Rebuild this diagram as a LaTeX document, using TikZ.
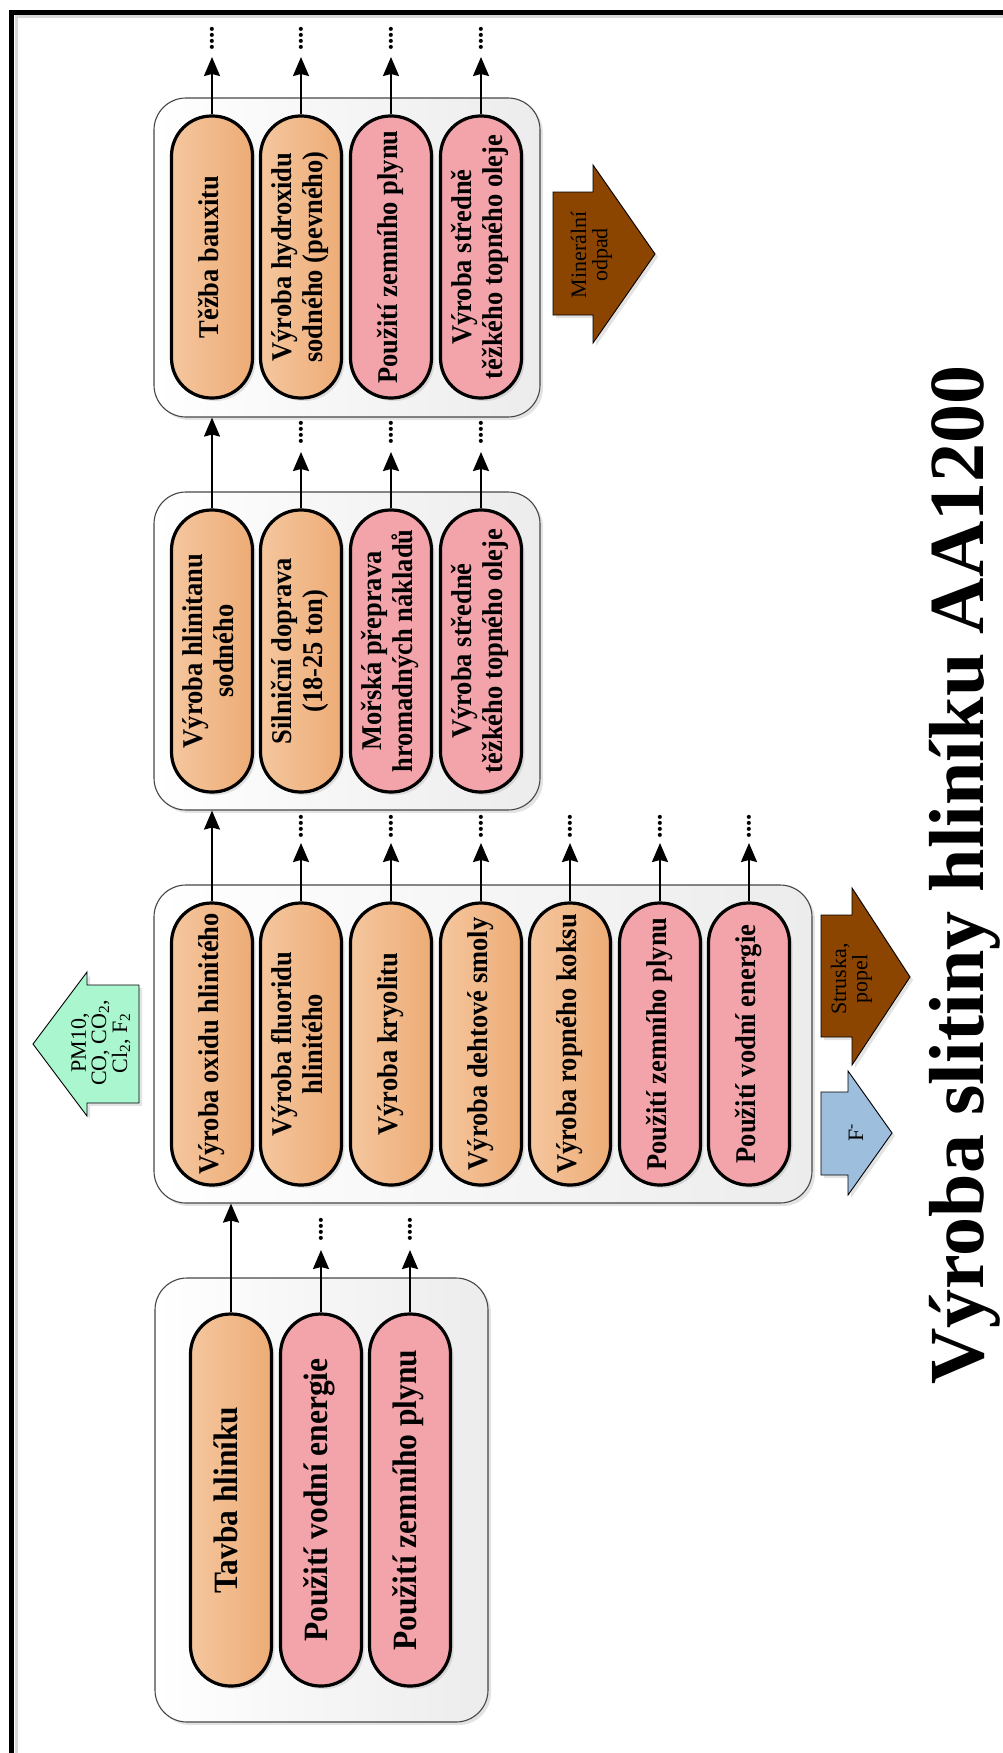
\documentclass[tikz,border=0pt]{standalone}
\usepackage{fontspec}
\setmainfont{Liberation Serif}
\usetikzlibrary{arrows.meta,shadows}
\definecolor{orL}{RGB}{245,198,158}
\definecolor{orR}{RGB}{237,172,118}
\definecolor{pinkF}{RGB}{243,164,171}
\definecolor{boxR}{RGB}{236,236,236}
\definecolor{boxD}{RGB}{70,70,70}
\definecolor{brownF}{RGB}{139,69,0}
\definecolor{blueF}{RGB}{157,190,221}
\definecolor{greenF}{RGB}{170,246,206}
\newcommand{\rottxt}[1]{\rotatebox{90}{\scalebox{1}[1.08]{\begin{tabular}{@{}c@{}}#1\end{tabular}}}}
\newcommand{\rotsmall}[1]{\rotatebox{90}{\begin{tabular}{@{}c@{}}#1\end{tabular}}}
\newcommand{\vdts}{\rotatebox{90}{.\kern-0.3pt.\kern-0.3pt.\kern-0.3pt.}}
\tikzset{
  shd/.style={drop shadow={shadow xshift=3pt,shadow yshift=-3pt,opacity=0.22}},
  grp/.style={draw=boxD,line width=1.1pt,rounded corners=32pt,left color=white,right color=boxR,shd,inner sep=0pt},
  pill/.style={draw=black,line width=3.2pt,rounded corners=40pt,minimum width=81pt,minimum height=282pt,inner sep=0pt,shd,font=\fontsize{26.5}{28}\selectfont\bfseries},
  pillO/.style={pill,left color=orL,right color=orR},
  pillP/.style={pill,fill=pinkF},
  bigpill/.style={minimum height=372pt,font=\fontsize{31.5}{32}\selectfont\bfseries},
  arr/.style={-{Stealth[length=19pt,width=16pt,inset=2pt]},line width=2pt},
  dotsn/.style={font=\fontsize{25}{25}\selectfont\bfseries,inner sep=0pt},
  blk/.style={draw=black,line width=0.9pt,shd},
  blktxt/.style={font=\fontsize{22}{20}\selectfont,inner sep=0pt},
}
\begin{document}
\begin{tikzpicture}[x=1pt,y=-1pt]
\useasboundingbox (0,0) rectangle (1003,1753);
% frame
\draw[gray!30,line width=3pt] (16,1753) -- (16,17) -- (1003,17);
\draw[black,line width=5pt] (11.5,1753) -- (11.5,12.5) -- (1003,12.5);

% group boxes
\node[grp,minimum width=386pt,minimum height=319pt] (g1) at (347,257.5) {};
\node[grp,minimum width=386pt,minimum height=318pt] (g2) at (347,651) {};
\node[grp,minimum width=658pt,minimum height=318pt] (g3) at (483,1044) {};
\node[grp,minimum width=333pt,minimum height=444pt] (g4) at (321.5,1500) {};

% group 1
\node[pillO] (p11) at (212,257) {\rottxt{Těžba bauxitu}};
\node[pillO] (p12) at (301,257) {\rottxt{Výroba hydroxidu\\sodného (pevného)}};
\node[pillP] (p13) at (391,257) {\rottxt{Použití zemního plynu}};
\node[pillP] (p14) at (481,257) {\rottxt{Výroba středně\\těžkého topného oleje}};

% group 2
\node[pillO] (p21) at (212,651) {\rottxt{Výroba hlinitanu\\sodného}};
\node[pillO] (p22) at (301,651) {\rottxt{Silniční doprava\\(18-25 ton)}};
\node[pillP] (p23) at (391,651) {\rottxt{Mořská přeprava\\hromadných nákladů}};
\node[pillP] (p24) at (481,651) {\rottxt{Výroba středně\\těžkého topného oleje}};

% group 3
\node[pillO] (p31) at (212,1044) {\rottxt{Výroba oxidu hlinitého}};
\node[pillO] (p32) at (301,1044) {\rottxt{Výroba fluoridu\\hlinitého}};
\node[pillO] (p33) at (391,1044) {\rottxt{Výroba kryolitu}};
\node[pillO] (p34) at (481,1044) {\rottxt{Výroba dehtové smoly}};
\node[pillO] (p35) at (570,1044) {\rottxt{Výroba ropného koksu}};
\node[pillP] (p36) at (660,1044) {\rottxt{Použití zemního plynu}};
\node[pillP] (p37) at (749,1044) {\rottxt{Použití vodní energie}};

% group 4
\node[pillO,bigpill] (p41) at (231,1500) {\rottxt{Tavba hliníku}};
\node[pillP,bigpill] (p42) at (321,1500) {\rottxt{Použití vodní energie}};
\node[pillP,bigpill] (p43) at (410,1500) {\rottxt{Použití zemního plynu}};

% arrow tips and dots
\foreach \n/\x in {11/212,12/301,13/391,14/481}{
  \coordinate (t\n) at (\x,57);
  \node[dotsn] (d\n) at (\x,38) {\vdts};
  \draw[arr] (p\n.north) -- (t\n);
}
\foreach \n/\x in {22/301,23/391,24/481}{
  \coordinate (t\n) at (\x,452);
  \node[dotsn] (d\n) at (\x,432) {\vdts};
  \draw[arr] (p\n.north) -- (t\n);
}
\foreach \n/\x in {32/301,33/391,34/481,35/570,36/660,37/749}{
  \coordinate (t\n) at (\x,843);
  \node[dotsn] (d\n) at (\x,826) {\vdts};
  \draw[arr] (p\n.north) -- (t\n);
}
\foreach \n/\x in {42/321,43/410}{
  \coordinate (t\n) at (\x,1250);
  \node[dotsn] (d\n) at (\x,1229) {\vdts};
  \draw[arr] (p\n.north) -- (t\n);
}
\draw[arr] (p21.north) -- (p21.north |- g1.south);
\draw[arr] (p31.north) -- (p31.north |- g2.south);
\draw[arr] (p41.north) -- (p41.north |- g3.south);

% block arrows
\draw[blk,fill=brownF] (553,192) -- (593,192) -- (593,165) -- (655,254) -- (593,343) -- (593,315) -- (553,315) -- cycle;
\node[blktxt] (mo) at (592,255) {\rotsmall{Minerální\\odpad}};

\draw[blk,fill=brownF] (821,915) -- (852,915) -- (852,888) -- (910,977) -- (852,1065) -- (852,1037) -- (821,1037) -- cycle;
\node[blktxt] (sp) at (852,979) {\rotsmall{Struska,\\popel}};

\draw[blk,fill=blueF] (821,1092) -- (848,1092) -- (848,1071) -- (892,1133) -- (848,1195) -- (848,1175) -- (821,1175) -- cycle;
\node[blktxt] (fm) at (856,1133) {\rotatebox{90}{F\textsuperscript{-}}};

\draw[blk,fill=greenF] (139,985) -- (87,985) -- (87,972) -- (33,1044) -- (87,1116) -- (87,1103) -- (139,1103) -- cycle;
\node[blktxt,font=\fontsize{22}{19}\selectfont] (pm) at (102,1043) {\rotsmall{PM10,\\CO, CO\textsubscript{2},\\Cl\textsubscript{2}, F\textsubscript{2}}};

% title
\node[font=\fontsize{78}{80}\selectfont\bfseries,inner sep=0pt] (title) at (965,875) {\rotatebox{90}{Výroba slitiny hliníku AA1200}};
\end{tikzpicture}
\end{document}
